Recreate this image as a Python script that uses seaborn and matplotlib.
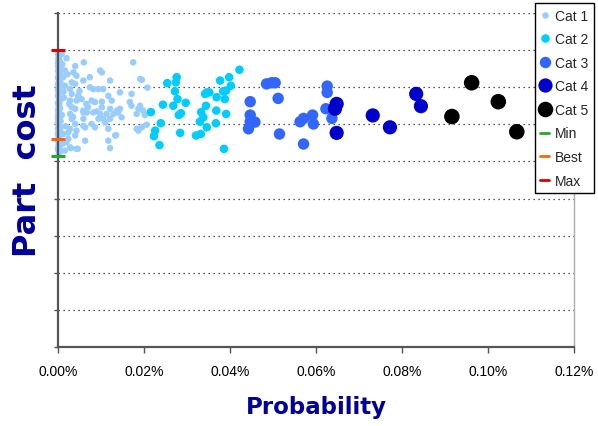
import matplotlib
matplotlib.use("Agg")
import matplotlib.pyplot as plt
import seaborn as sns
import pandas as pd
from matplotlib.lines import Line2D
from matplotlib.ticker import FuncFormatter, MultipleLocator

# ---------------- data (probability in %, part cost in arbitrary units) ----------------
cat1_x = [0.0000, 0.0002, 0.0001, 0.0003, 0.0000, 0.0004, 0.0001, 0.0002, 0.0000, 0.0003,
          0.0001, 0.0000, 0.0004, 0.0002, 0.0000, 0.0001, 0.0003, 0.0000, 0.0002, 0.0001,
          0.0000, 0.0004, 0.0002, 0.0000, 0.0001, 0.0003, 0.0000, 0.0002, 0.0001, 0.0000,
          0.0003, 0.0001, 0.0000, 0.0002, 0.0004, 0.0000, 0.0001, 0.0003, 0.0000, 0.0002,
          0.0001, 0.0000, 0.0003, 0.0001, 0.0000, 0.0002,
          0.0005, 0.0001, 0.0006, 0.0000, 0.0003, 0.0005, 0.0001, 0.0006, 0.0002, 0.0004,
          0.0000, 0.0006, 0.0003, 0.0005, 0.0001, 0.0004, 0.0006, 0.0002, 0.0005, 0.0000,
          0.0003, 0.0006, 0.0004, 0.0001, 0.0005, 0.0002, 0.0006, 0.0003, 0.0000, 0.0004,
          0.0009, 0.0020, 0.0005, 0.0040, 0.0060, 0.0175, 0.0016, 0.0036, 0.0012, 0.0043,
          0.0074, 0.0059, 0.0098, 0.0102, 0.0121, 0.0032, 0.0195, 0.0016, 0.0028, 0.0040,
          0.0074, 0.0082, 0.0094, 0.0105, 0.0208, 0.0144, 0.0032, 0.0047, 0.0117, 0.0171,
          0.0028, 0.0043, 0.0055, 0.0078, 0.0086, 0.0102, 0.0125, 0.0167, 0.0191, 0.0032,
          0.0040, 0.0059, 0.0070, 0.0102, 0.0121, 0.0137, 0.0144, 0.0187, 0.0171, 0.0198,
          0.0028, 0.0059, 0.0067, 0.0082, 0.0098, 0.0113, 0.0129, 0.0140, 0.0183, 0.0202,
          0.0032, 0.0059, 0.0094, 0.0105, 0.0121, 0.0148, 0.0040, 0.0059, 0.0078, 0.0086,
          0.0117, 0.0183, 0.0195, 0.0028, 0.0043, 0.0063, 0.0187, 0.0012, 0.0040, 0.0024,
          0.0133, 0.0020, 0.0063, 0.0117, 0.0028, 0.0043, 0.0121, 0.0016, 0.0191, 0.0206,
          0.0135, 0.0046, 0.0030, 0.0010, 0.0022, 0.0013, 0.0026, 0.0009, 0.0018, 0.0035,
          0.0011, 0.0024, 0.0014, 0.0050, 0.0066, 0.0090, 0.0110]
cat1_y = [7.90, 7.84, 7.78, 7.72, 7.66, 7.60, 7.55, 7.49, 7.43, 7.37,
          7.31, 7.26, 7.20, 7.15, 7.09, 7.03, 6.98, 6.92, 6.86, 6.80,
          6.75, 6.69, 6.63, 6.58, 6.52, 6.46, 6.40, 6.35, 6.29, 6.23,
          6.18, 6.12, 6.06, 6.00, 5.95, 5.89, 5.83, 5.78, 5.72, 5.66,
          5.60, 5.55, 5.49, 5.43, 5.32, 5.22,
          7.87, 7.75, 7.63, 7.58, 7.46, 7.34, 7.23, 7.12, 7.00, 6.89,
          6.78, 6.66, 6.55, 6.43, 6.32, 6.21, 6.09, 5.97, 5.86, 5.75,
          5.63, 5.52, 5.40, 5.37, 5.27, 5.18, 7.50, 6.95, 6.15, 5.45,
          7.90, 7.78, 7.67, 7.57, 7.67, 7.67, 7.45, 7.40, 7.27, 7.31,
          7.27, 7.18, 7.45, 7.40, 7.18, 7.13, 7.20, 7.04, 6.95, 7.09,
          7.00, 6.95, 6.95, 6.95, 6.99, 6.86, 6.82, 6.77, 6.77, 6.82,
          6.64, 6.64, 6.68, 6.64, 6.60, 6.61, 6.64, 6.60, 6.50, 6.46,
          6.42, 6.37, 6.46, 6.46, 6.42, 6.37, 6.42, 6.42, 6.50, 6.37,
          6.28, 6.32, 6.32, 6.32, 6.28, 6.28, 6.28, 6.32, 6.28, 6.25,
          6.15, 6.15, 6.15, 6.15, 6.15, 6.19, 6.01, 5.96, 6.01, 5.92,
          5.88, 5.88, 5.92, 5.88, 5.83, 5.92, 5.83, 5.74, 5.70, 5.61,
          5.70, 5.52, 5.56, 5.56, 5.38, 5.34, 5.36, 5.29, 7.22, 5.99,
          5.71, 5.34, 5.36, 7.62, 7.35, 6.88, 6.55, 6.25, 5.95, 6.20,
          5.48, 5.78, 6.72, 6.90, 6.55, 6.35, 6.05]

cat2_x = [0.0254, 0.0276, 0.0274, 0.0272, 0.0278, 0.0297, 0.0244, 0.0268, 0.0216, 0.0286,
          0.0281, 0.0239, 0.0226, 0.0223, 0.0284, 0.0236, 0.0422, 0.0377, 0.0398, 0.0402,
          0.0346, 0.0342, 0.0352, 0.0369, 0.0384, 0.0391, 0.0388, 0.0344, 0.0333, 0.0338,
          0.0330, 0.0368, 0.0391, 0.0346, 0.0367, 0.0321, 0.0332, 0.0386]
cat2_y = [7.11, 7.27, 7.13, 6.89, 6.68, 6.58, 6.53, 6.50, 6.33, 6.30,
          6.25, 6.03, 5.83, 5.68, 5.77, 5.44, 7.47, 7.18, 7.27, 7.04,
          6.86, 6.82, 6.86, 6.73, 6.89, 6.91, 6.68, 6.50, 6.33, 6.19,
          6.07, 6.37, 6.28, 5.92, 6.03, 5.70, 5.74, 5.34]

cat3_x = [0.0485, 0.0497, 0.0505, 0.0447, 0.0512, 0.0447, 0.0447, 0.0458, 0.0443, 0.0515,
          0.0563, 0.0571, 0.0592, 0.0594, 0.0571, 0.0626, 0.0626, 0.0623, 0.0637]
cat3_y = [7.09, 7.12, 7.12, 6.61, 6.70, 6.25, 6.07, 6.06, 5.88, 5.74,
          6.07, 6.16, 6.25, 6.01, 5.47, 7.03, 6.86, 6.42, 6.16]

cat4_x = [0.0648, 0.0644, 0.0648, 0.0732, 0.0772, 0.0833, 0.0844]
cat4_y = [6.55, 6.42, 5.77, 6.24, 5.92, 6.82, 6.49]

cat5_x = [0.0962, 0.0916, 0.1024, 0.1067]
cat5_y = [7.12, 6.21, 6.61, 5.80]

ref_names = ["Min", "Best", "Max"]
ref_x = [0.0, 0.0, 0.0]
ref_y = [5.15, 5.61, 8.00]

cat_names = ["Cat 1", "Cat 2", "Cat 3", "Cat 4", "Cat 5"]
x_ticks = [0.00, 0.02, 0.04, 0.06, 0.08, 0.10, 0.12]

# ---------------- styling ----------------
cat_colors = ["#99CCFF", "#00CCFF", "#3366FF", "#0000CC", "#000000"]
cat_sizes = [22, 38, 68, 105, 125]
ref_colors = ["#22AA22", "#FF6600", "#DD0000"]
label_color = "#000099"

sns.set_style("white")
plt.rcParams["font.family"] = ["Liberation Sans", "DejaVu Sans"]

fig = plt.figure(figsize=(5.98, 4.27), dpi=100)
ax = fig.add_axes([58 / 598, 1 - 348 / 427, 516 / 598, 334 / 427])

groups = [(cat1_x, cat1_y), (cat2_x, cat2_y), (cat3_x, cat3_y), (cat4_x, cat4_y), (cat5_x, cat5_y)]
for name, (xs, ys), col, sz in zip(cat_names, groups, cat_colors, cat_sizes):
    df = pd.DataFrame({"prob": xs, "cost": ys})
    sns.scatterplot(data=df, x="prob", y="cost", ax=ax, color=col, s=sz,
                    linewidth=0, edgecolor="none", clip_on=False, zorder=2, legend=False)

for name, xv, yv, col in zip(ref_names, ref_x, ref_y, ref_colors):
    df = pd.DataFrame({"prob": [xv], "cost": [yv]})
    sns.scatterplot(data=df, x="prob", y="cost", ax=ax, marker="_", s=95,
                    color=col, linewidth=2.2, clip_on=False, zorder=3, legend=False)

ax.set_xlim(0, 0.12)
ax.set_ylim(0, 9)
ax.set_xticks(x_ticks)
ax.xaxis.set_major_formatter(FuncFormatter(lambda v, p: f"{v:.2f}%"))
ax.yaxis.set_major_locator(MultipleLocator(1))
ax.set_yticklabels([])

ax.grid(axis="y", color="#222222", linestyle=(0, (1, 3)), linewidth=0.9)
ax.grid(axis="x", visible=False)
ax.set_axisbelow(True)

for side in ["left", "bottom"]:
    ax.spines[side].set_color("#555555")
    ax.spines[side].set_linewidth(1.6)
ax.spines["right"].set_color("#aaaaaa")
ax.spines["right"].set_linewidth(1.0)
ax.spines["top"].set_visible(False)

ax.tick_params(axis="x", direction="out", length=4, width=1, color="#555555",
               labelsize=10, labelcolor="black", pad=8, bottom=True)
ax.tick_params(axis="y", direction="out", length=3, width=1, color="#555555", left=True)

ax.set_xlabel("Probability", fontsize=16.5, fontweight="bold", color=label_color,
              family="DejaVu Sans")
ax.set_ylabel("Part  cost", fontsize=23, fontweight="bold", color=label_color,
              family="DejaVu Sans")
ax.xaxis.set_label_coords(0.5, -0.145)
ax.yaxis.set_label_coords(-0.03, 0.53)

handles = []
for name, col, sz in zip(cat_names, cat_colors, cat_sizes):
    handles.append(Line2D([], [], linestyle="none", marker="o", markersize=sz ** 0.5,
                          markerfacecolor=col, markeredgecolor="none", label=name))
for name, col in zip(ref_names, ref_colors):
    handles.append(Line2D([], [], color=col, linewidth=2, label=name))

leg = fig.legend(handles=handles, loc="upper right", bbox_to_anchor=(594 / 598, 1 - 4 / 427),
                 frameon=True, fancybox=False, shadow=False, fontsize=10,
                 handlelength=0.6, handletextpad=0.45, labelspacing=0.69,
                 borderpad=0.4, borderaxespad=0)
leg.get_frame().set_edgecolor("black")
leg.get_frame().set_linewidth(1.0)
leg.get_frame().set_facecolor("white")
leg.get_frame().set_alpha(1)

fig.savefig("out.png", dpi=100)
